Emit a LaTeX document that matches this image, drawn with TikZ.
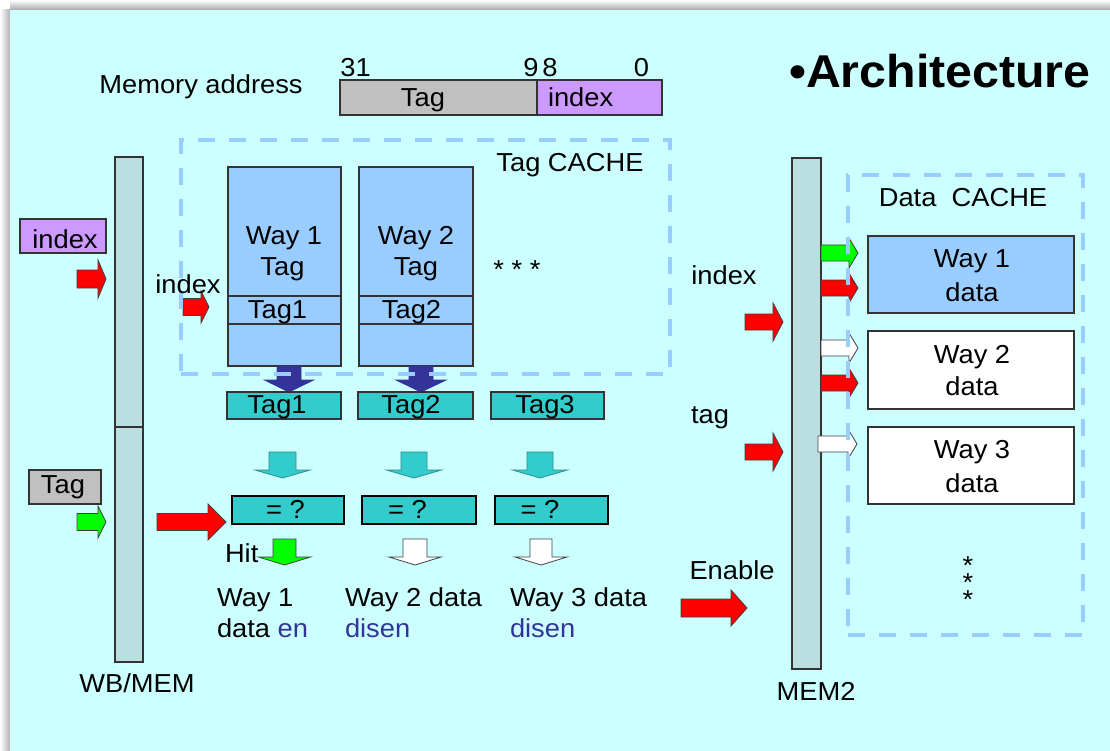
\documentclass[tikz,border=0pt]{standalone}
\usepackage{fontspec}
\setmainfont[FakeStretch=1.05]{Liberation Sans}

\definecolor{slide}{HTML}{CCFFFF}
\definecolor{lblue}{HTML}{99CCFF}
\definecolor{tealbox}{HTML}{33CCCC}
\definecolor{tealedge}{HTML}{2A9090}
\definecolor{lilac}{HTML}{CC99FF}
\definecolor{greybox}{HTML}{C0C0C0}
\definecolor{regbar}{HTML}{BBDFE0}
\definecolor{navy}{HTML}{333399}
\definecolor{hitgreen}{HTML}{00FF00}
\definecolor{edge}{HTML}{333333}

% block arrow pointing right: style, tail x, tip x, centre y, shaft half, head half, head length
\newcommand\rblock[7]{%
  \filldraw[#1] (#2,#4-#5) -- (#3-#7,#4-#5) -- (#3-#7,#4-#6) -- (#3,#4)
    -- (#3-#7,#4+#6) -- (#3-#7,#4+#5) -- (#2,#4+#5) -- cycle;}
% block arrow pointing down: style, centre x, top y, tip y, shaft half, head half, head length
\newcommand\dblock[7]{%
  \filldraw[#1] (#2-#5,#3) -- (#2-#5,#4-#7) -- (#2-#6,#4-#7) -- (#2,#4)
    -- (#2+#6,#4-#7) -- (#2+#5,#4-#7) -- (#2+#5,#3) -- cycle;}

\begin{document}
\begin{tikzpicture}[x=1pt,y=-1pt,
  txt/.style={font=\fontsize{26}{31}\selectfont, inner sep=0pt, outer sep=0pt, anchor=base},
  txtw/.style={txt, anchor=base west},
  box/.style={draw=edge, line width=1.3pt, inner sep=0pt, outer sep=0pt},
  cmpbox/.style={draw=black, line width=2.2pt, fill=tealbox, inner sep=0pt, outer sep=0pt,
                 minimum height=28pt},
  tagbox/.style={box, fill=tealbox, minimum height=27pt},
  cachebox/.style={draw=lblue, line width=4.5pt, dash pattern=on 17pt off 14pt,
                   inner sep=0pt, outer sep=0pt},
  redarr/.style={fill=red, draw=black!75, line width=0.8pt},
  greenarr/.style={fill=hitgreen, draw=black!75, line width=0.8pt},
  whitearr/.style={fill=white, draw=black!75, line width=0.8pt},
  tealarr/.style={fill=tealbox, draw=tealedge, line width=0.8pt},
  navyarr/.style={fill=navy, draw=navy, line width=0.8pt},
  blue/.style={text=navy}]

\useasboundingbox (0,0) rectangle (1110,751);
% page and drop shadow
\fill[white] (0,0) rectangle (1110,751);
\shade[top color=white, bottom color=black!35] (10,0) rectangle (1110,10);
\shade[left color=white, right color=black!30] (0,10) rectangle (10,751);
\fill[slide] (10,10) rectangle (1110,751);

% memory address fields
\node[txt] (memlabel) at (201,94) {Memory address};
\node[box, fill=greybox, minimum width=197pt, minimum height=35pt] (addrtag) at (438.5,97.5) {};
\node[box, fill=lilac, minimum width=125pt, minimum height=35pt] (addridx) at (599.5,97.5) {};
\node[txt] (b31) at (355.5,77) {31};
\node[txt] (b9) at (531,77) {9};
\node[txt] (b8) at (550,77) {8};
\node[txt] (b0) at (641.5,77) {0};
\node[txt] (addrtagtxt) at (423,107) {Tag};
\node[txtw] (addridxtxt) at (548,107) {index};

\node[font=\bfseries\fontsize{46}{55}\selectfont, inner sep=0pt, anchor=base west] (title) at (789,88) {•Architecture};

% WB/MEM pipeline register
\node[box, fill=regbar, minimum width=28pt, minimum height=505pt] (wbmem) at (129,409.5) {};
\draw[edge, line width=1.3pt] (wbmem.west |- 0,427) -- (wbmem.east |- 0,427);
\node[txt] (wbmemtxt) at (137,692) {WB/MEM};

\node[box, fill=lilac, minimum width=86pt, minimum height=34pt] (inidx) at (63,236) {};
\node[txt] (inidxtxt) at (65,249) {index};
\node[box, fill=greybox, minimum width=72pt, minimum height=34pt] (intag) at (65,487) {};
\node[txt] (intagtxt) at (63,493) {Tag};
\rblock{redarr}{77}{106}{279}{9}{19}{8}
\rblock{greenarr}{77}{106}{522}{8.5}{16}{8}

% tag cache ways
\node[box, fill=lblue, minimum width=113pt, minimum height=199pt] (way1tag) at (284.5,266.5) {};
\node[box, fill=lblue, minimum width=114pt, minimum height=199pt] (way2tag) at (416,266.5) {};
\foreach \w in {way1tag,way2tag}{
  \draw[edge, line width=1.3pt] (\w.west |- 0,296) -- (\w.east |- 0,296);
  \draw[edge, line width=1.3pt] (\w.west |- 0,324) -- (\w.east |- 0,324);
}
\node[txt] (w1a) at (284,244) {Way 1};
\node[txt] (w1b) at (282.5,276) {Tag};
\node[txt] (w1c) at (277.5,318) {Tag1};
\node[txt] (w2a) at (416,244) {Way 2};
\node[txt] (w2b) at (416,276) {Tag};
\node[txt] (w2c) at (411.5,318) {Tag2};
\node[txt] (tagdots) at (517,278) {* * *};

\rblock{redarr}{183}{209}{307}{8.5}{16}{8}

% tags read out of the ways
\dblock{navyarr}{289}{366}{392}{12}{24.5}{12}
\dblock{navyarr}{421}{366}{392}{12}{25}{12}
\node[cachebox, minimum width=489pt, minimum height=234pt] (tagcache) at (425.5,257) {};
\node[txt] (tagcachetxt) at (570,172) {Tag CACHE};
\node[txt] (idxmid) at (188,293) {index};

\node[tagbox, minimum width=114pt] (t1) at (284,405.5) {};
\node[tagbox, minimum width=115pt] (t2) at (415.5,405.5) {};
\node[tagbox, minimum width=113pt] (t3) at (547.5,405.5) {};
\node[txt] (t1txt) at (277,413) {Tag1};
\node[txt] (t2txt) at (411,413) {Tag2};
\node[txt] (t3txt) at (545,413) {Tag3};

\dblock{tealarr}{282.5}{452}{478}{13.5}{27.5}{8}
\dblock{tealarr}{414}{452}{478}{13}{27.5}{8}
\dblock{tealarr}{540}{452}{478}{13}{27.5}{8}

% comparators
\node[cmpbox, minimum width=112pt] (c1) at (288,510) {};
\node[cmpbox, minimum width=114pt] (c2) at (419,510) {};
\node[cmpbox, minimum width=113pt] (c3) at (551.5,510) {};
\node[txt] (c1txt) at (285.5,518) {= ?};
\node[txt] (c2txt) at (407.5,518) {= ?};
\node[txt] (c3txt) at (540,518) {= ?};
\rblock{redarr}{157}{226}{522}{8.5}{18}{18}

\dblock{greenarr}{284.5}{539}{565}{11.5}{26}{8}
\dblock{whitearr}{415}{539}{565}{12}{26}{8}
\dblock{whitearr}{541}{539}{565}{11}{26}{8}
\node[txtw] (hit) at (225,562) {Hit};

\node[txtw] (o1a) at (217,606) {Way 1};
\node[txtw] (o1b) at (217,637) {data \textcolor{navy}{en}};
\node[txtw] (o2a) at (345,606) {Way 2 data};
\node[txtw, blue] (o2b) at (345,637) {disen};
\node[txtw] (o3a) at (510,606) {Way 3 data};
\node[txtw, blue] (o3b) at (510,637) {disen};

% MEM2 register and data cache
\node[box, fill=regbar, minimum width=29pt, minimum height=511pt] (mem2) at (806.5,413.5) {};
\node[txt] (mem2txt) at (816,700) {MEM2};
\node[txt] (ridx) at (724,284) {index};
\node[txt] (rtag) at (710,423) {tag};
\node[txt] (ren) at (732,579) {Enable};
\rblock{redarr}{745}{783}{322}{8}{19}{10}
\rblock{redarr}{745}{783}{452}{8}{19}{10}
\rblock{redarr}{681}{747}{608}{9}{18}{16}

\node[box, fill=lblue, minimum width=206pt, minimum height=77pt] (d1) at (971,274.5) {};
\node[box, fill=white, minimum width=206pt, minimum height=78pt] (d2) at (971,370) {};
\node[box, fill=white, minimum width=206pt, minimum height=77pt] (d3) at (971,465.5) {};
\node[txt] (d1a) at (972,268) {Way 1};
\node[txt] (d1b) at (972,301) {data};
\node[txt] (d2a) at (972,363) {Way 2};
\node[txt] (d2b) at (972,395) {data};
\node[txt] (d3a) at (972,458) {Way 3};
\node[txt] (d3b) at (972,492) {data};

\rblock{greenarr}{821}{858}{253}{8}{15}{9}
\rblock{redarr}{821}{858}{288}{8}{15}{9}
\rblock{whitearr}{821}{858}{348}{8}{15}{9}
\rblock{redarr}{821}{858}{383}{8}{15}{9}
\rblock{whitearr}{818}{857}{444}{8}{15}{9}

\node[cachebox, minimum width=235pt, minimum height=460pt] (datacache) at (965.5,405) {};
\node[txt] (datacachetxt) at (963,207) {Data~~CACHE};
% three stacked asterisks set as one tight column
\node[txt] (vstars) at (968,608)
  {\vbox{\offinterlineskip\hbox{*}\kern-1.2pt\hbox{*}\kern-1.2pt\hbox{*}}};
\end{tikzpicture}
\end{document}
